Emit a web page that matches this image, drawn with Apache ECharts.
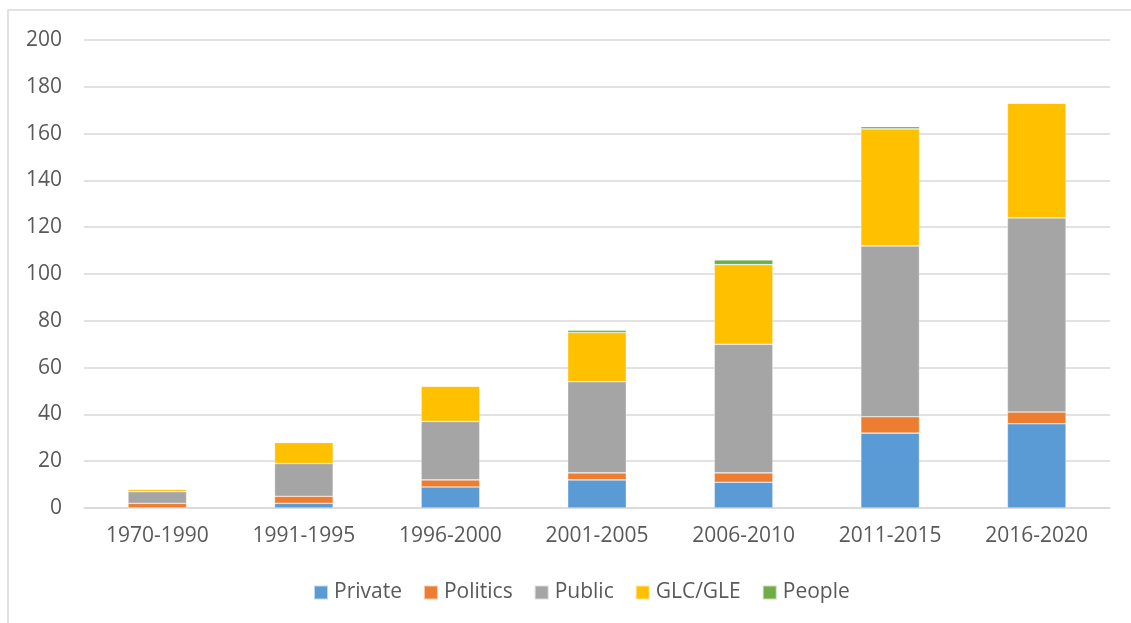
<!DOCTYPE html>
<html>
<head>
<meta charset="utf-8">
<script src="https://cdn.jsdelivr.net/npm/echarts@6/dist/echarts.min.js"></script>
<style>
  html, body { margin: 0; padding: 0; background: #fff; }
  #chart { width: 1131px; height: 623px; }
</style>
</head>
<body>
<div id="chart"></div>
<script>
// Periods on the category axis
const periods = ['1970-1990', '1991-1995', '1996-2000', '2001-2005', '2006-2010', '2011-2015', '2016-2020'];

// Stacked counts per sector
const privateVals  = [0, 2, 9, 12, 11, 32, 36];
const politicsVals = [2, 3, 3, 3, 4, 7, 5];
const publicVals   = [5, 14, 25, 39, 55, 73, 83];
const glcVals      = [1, 9, 15, 21, 34, 50, 49];
const peopleVals   = [0, 0, 0, 1, 2, 1, 0];

const seriesNames  = ['Private', 'Politics', 'Public', 'GLC/GLE', 'People'];
const seriesColors = ['#5b9bd5', '#ed7d31', '#a5a5a5', '#ffc000', '#70ad47'];
const seriesData   = [privateVals, politicsVals, publicVals, glcVals, peopleVals];

const textColor = '#595959';
const gridColor = '#d9d9d9';
const fontFamily = '"Open Sans", "Noto Sans", sans-serif';

const chart = echarts.init(document.getElementById('chart'));

chart.setOption({
  animation: false,
  backgroundColor: '#fff',
  textStyle: { fontFamily: fontFamily },
  graphic: [{
    type: 'rect',
    shape: { x: 8, y: 10, width: 1140, height: 640 },
    style: { fill: 'none', stroke: gridColor, lineWidth: 1.5 },
    silent: true
  }],
  grid: { left: 84, right: 21, top: 40, bottom: 115 },
  legend: {
    top: 577,
    left: 308,
    itemWidth: 14,
    itemHeight: 14,
    itemGap: 21,
    icon: 'rect',
    textStyle: { color: textColor, fontSize: 21, fontFamily: fontFamily, padding: [0, 0, 0, 1] },
    data: seriesNames
  },
  xAxis: {
    type: 'category',
    data: periods,
    axisLine: { show: true, lineStyle: { color: gridColor, width: 1.5 } },
    axisTick: { show: false },
    axisLabel: { color: textColor, fontSize: 21, margin: 18, fontFamily: fontFamily }
  },
  yAxis: {
    type: 'value',
    min: 0,
    max: 200,
    interval: 20,
    axisLine: { show: false },
    axisTick: { show: false },
    splitLine: { lineStyle: { color: gridColor, width: 1.5 } },
    axisLabel: { color: textColor, fontSize: 21, margin: 22, fontFamily: fontFamily }
  },
  series: seriesNames.map((name, i) => ({
    name: name,
    type: 'bar',
    stack: 'total',
    barWidth: '40%',
    data: seriesData[i],
    itemStyle: { color: seriesColors[i], borderColor: 'rgba(255,255,255,0.6)', borderWidth: 0.6 }
  }))
});
</script>
</body>
</html>
